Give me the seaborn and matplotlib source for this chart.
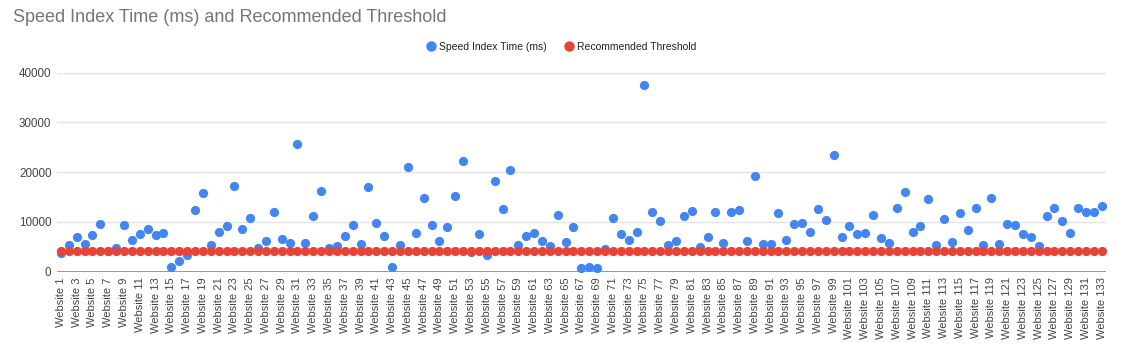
import matplotlib
matplotlib.use("Agg")
import matplotlib.pyplot as plt
from matplotlib import font_manager
from matplotlib.lines import Line2D
import seaborn as sns
import pandas as pd

websites = [f"Website {i}" for i in range(1, 134)]
speed_index = [
    3700, 5300, 6900, 5500, 7300, 9500, 4100, 4700, 9300, 6300,
    7500, 8600, 7400, 7800, 900, 2200, 3300, 12500, 15800, 5400,
    7900, 9200, 17300, 8500, 10800, 4800, 6100, 11900, 6600, 5800,
    25700, 5700, 11100, 16300, 4800, 5200, 7100, 9300, 5500, 17100,
    9800, 7100, 900, 5300, 21100, 7700, 14900, 9400, 6200, 8900,
    15300, 22300, 4000, 7500, 3300, 18300, 12700, 20500, 5300, 7100,
    7700, 6200, 5100, 11300, 6000, 9000, 800, 900, 800, 4500,
    10800, 7600, 6300, 7900, 37500, 12000, 10100, 5300, 6200, 11100,
    12200, 5000, 6900, 12100, 5700, 12100, 12500, 6200, 19300, 5600,
    5500, 11800, 6300, 9500, 9700, 7900, 12700, 10300, 23400, 6900,
    9200, 7500, 7700, 11400, 6700, 5800, 12900, 16000, 7900, 9200,
    14700, 5300, 10600, 5900, 11800, 8300, 12800, 5300, 14900, 5600,
    9500, 9400, 7500, 6900, 5200, 11100, 12900, 10200, 7700, 12800,
    11900, 11900, 13300,
]
threshold = [4200] * 133
series_names = ["Speed Index Time (ms)", "Recommended Threshold"]
colors = ["#4285F4", "#EA4335"]
y_ticks = [0, 10000, 20000, 30000, 40000]

names = {f.name for f in font_manager.fontManager.ttflist}
narrow = "Liberation Sans Narrow" if "Liberation Sans Narrow" in names else "Liberation Sans"

sns.set_theme(style="white")
plt.rcParams["font.family"] = ["Liberation Sans", "DejaVu Sans"]

df = pd.DataFrame({"site": websites, "speed": speed_index, "thr": threshold})

fig = plt.figure(figsize=(11.26, 3.62), dpi=100)
ax = fig.add_axes([57 / 1126, 1 - 271.7 / 362, (1105.7 - 57) / 1126, (271.7 - 72.7) / 362])

sns.scatterplot(data=df, x="site", y="speed", ax=ax, color=colors[0], s=44,
                linewidth=0, zorder=3, legend=False)
sns.scatterplot(data=df, x="site", y="thr", ax=ax, color=colors[1], s=44,
                linewidth=0, zorder=4, legend=False)

ax.set_xlim(-0.5, len(websites) - 0.5)
ax.set_ylim(0, 40000)
ax.set_yticks(y_ticks)
ax.set_yticklabels([str(v) for v in y_ticks], fontsize=8.4, color="#444444", family=narrow)
ax.set_xticks(range(0, len(websites), 2))
ax.set_xticklabels(websites[::2], rotation=90, fontsize=8, color="#444444")
ax.tick_params(axis="both", length=0, pad=4)
ax.set_xlabel("")
ax.set_ylabel("")
ax.grid(axis="y", color="#e3e3e3", linewidth=1)
for s in ax.spines.values():
    s.set_visible(False)
ax.axhline(0, color="#888888", linewidth=1.2, zorder=2)

fig.text(13 / 1126, 1 - 18 / 362, "Speed Index Time (ms) and Recommended Threshold",
         fontsize=13, color="#757575", va="center", ha="left", family=narrow)

handles = [Line2D([], [], marker="o", linestyle="", markersize=7.5,
                  markerfacecolor=c, markeredgewidth=0) for c in colors]
leg = fig.legend(handles, series_names, loc="center", ncol=2, frameon=False,
                 bbox_to_anchor=(561 / 1126, 1 - 47 / 362), handletextpad=0.3,
                 columnspacing=1.6, handlelength=1.0,
                 prop={"family": narrow, "size": 7.5})
for t in leg.get_texts():
    t.set_color("#222222")

fig.savefig("out.png", dpi=100)
